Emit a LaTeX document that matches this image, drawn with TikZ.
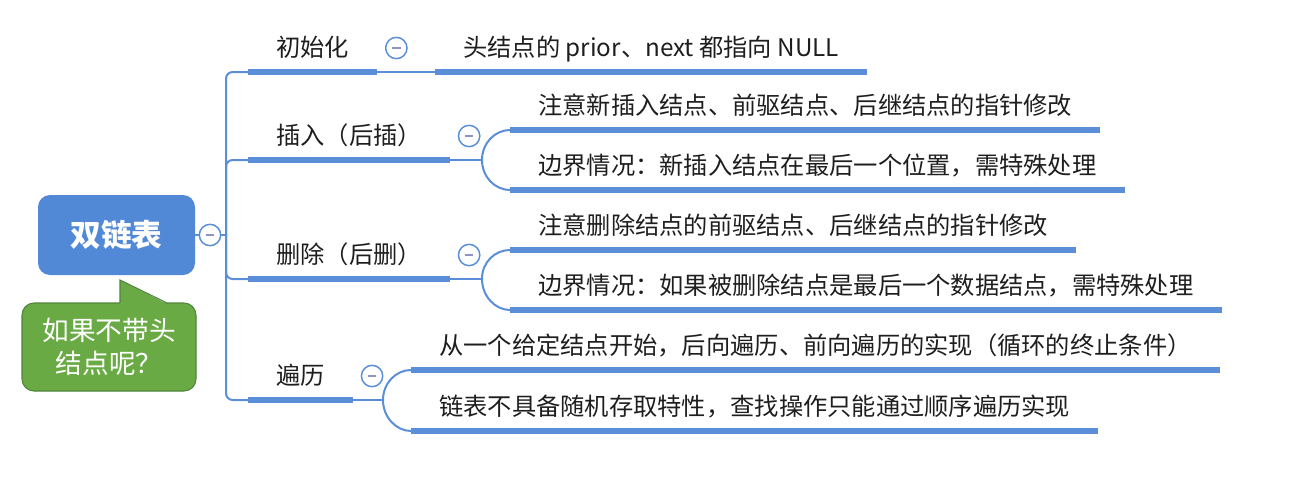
\documentclass[tikz,border=0pt]{standalone}
\usepackage{fontspec}
\setmainfont{Noto Sans CJK SC}
\usetikzlibrary{calc,positioning}
\definecolor{mapblue}{HTML}{5A8ED8}
\definecolor{rootblue}{HTML}{5189D6}
\definecolor{askgreen}{HTML}{6AAA45}
\definecolor{askedge}{HTML}{50843A}
\definecolor{ink}{HTML}{1E1E1E}
\definecolor{foldmark}{HTML}{8E92C4}
\tikzset{x=.75pt,y=-.75pt,
  every node/.style={font=\fontsize{18.2}{22}\selectfont,text=ink},
  topic/.style={anchor=south west,inner xsep=21pt,inner ysep=11.8pt,text depth=0pt},
  bar/.style={draw=mapblue,line width=5pt},
  link/.style={draw=mapblue,line width=1.5pt},
  fold/.style={circle,draw=mapblue,line width=1.1pt,fill=white,minimum size=16pt,inner sep=0pt,
    path picture={\draw[foldmark,line width=1.1pt]([xshift=-3.2pt]path picture bounding box.center)--([xshift=3.2pt]path picture bounding box.center);}},
  rootbox/.style={fill=rootblue,rounded corners=9pt,minimum width=117.75pt,minimum height=60pt,
    text=white,font=\fontsize{23}{28}\selectfont\bfseries},
  askbox/.style={fill=askgreen,draw=askedge,line width=.8pt,rounded corners=9pt,minimum width=130.5pt,
    minimum height=66pt,align=center,text=white,font=\fontsize{20}{24.75}\selectfont}}

\begin{document}
\begin{tikzpicture}
\useasboundingbox(0,0)rectangle(1306,486);
% root and note
\node[rootbox](root)at(116.5,235){双链表};
\node[fold](f-root)at(210,235){};
\coordinate(trunk)at(226,235);
\node[askbox](ask)at(109,347){如果不带头\\结点呢？};
\coordinate(tip)at(120,280);
\fill[askgreen](tip)--($(tip|-ask.north)+(0,1.5)$)--++(47,0)--cycle;
\draw[askedge,line width=.8pt]($(tip|-ask.north)+(0,.5)$)--(tip)--($(tip|-ask.north)+(47,.5)$);
% branches
\node[topic](t-init)at(248,72){初始化};
\node[topic](t-ins)at(248,160){插入（后插）};
\node[topic](t-del)at(248,279){删除（后删）};
\node[topic](t-trav)at(248,400){遍历};
% leaves
\node[topic](l-init)at(435,72){头结点的 prior、next 都指向 NULL};
\node[topic](l-ins1)at(510,130){注意新插入结点、前驱结点、后继结点的指针修改};
\node[topic](l-ins2)at(510,190){边界情况：新插入结点在最后一个位置，需特殊处理};
\node[topic](l-del1)at(510,250){注意删除结点的前驱结点、后继结点的指针修改};
\node[topic](l-del2)at(510,310){边界情况：如果被删除结点是最后一个数据结点，需特殊处理};
\node[topic](l-trav1)at(411,370){从一个给定结点开始，后向遍历、前向遍历的实现（循环的终止条件）};
\node[topic](l-trav2)at(411,431){链表不具备随机存取特性，查找操作只能通过顺序遍历实现};
\foreach \n in {t-init,t-ins,t-del,t-trav,l-init,l-ins1,l-ins2,l-del1,l-del2,l-trav1,l-trav2}
  \draw[bar](\n.south west)--(\n.south east);
% trunk
\draw[link](root)--(f-root)--(trunk);
\draw[link,rounded corners=5pt](t-init.south west)-|(trunk)|-(t-trav.south west);
\draw[link,rounded corners=5pt](trunk)|-(t-ins.south west);
\draw[link,rounded corners=5pt](trunk)|-(t-del.south west);
% leaf connectors
\draw[link](t-init.south east)--(l-init.south west);
\foreach \p/\a/\b in {t-ins/l-ins1/l-ins2,t-del/l-del1/l-del2,t-trav/l-trav1/l-trav2}{
  \path(\a.south west|-\p.south east)++(-28,0)coordinate(s);
  \draw[link](\p.south east)--(s);
  \draw[link](s)..controls+(0,-17)and+(-15,0)..(\a.south west);
  \draw[link](s)..controls+(0,17)and+(-15,0)..(\b.south west);}
% fold markers
\foreach \p in {t-init,t-ins,t-del,t-trav}\node[fold](f-\p)at($(\p.south east)+(19,-24)$){};
\end{tikzpicture}
\end{document}
